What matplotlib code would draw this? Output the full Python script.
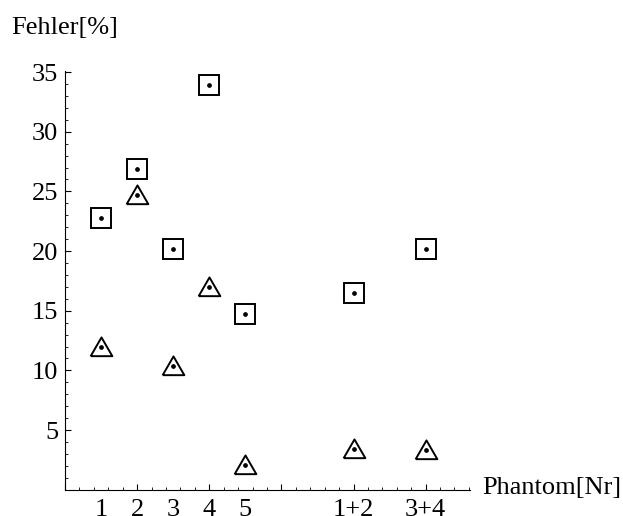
import numpy as np
import matplotlib
matplotlib.use("Agg")
import matplotlib.pyplot as plt
from matplotlib.ticker import MultipleLocator, NullFormatter

plt.rcParams['font.family'] = ['Liberation Serif', 'DejaVu Serif']

# phantom positions on the x axis and their labels
phantom_x = [1, 2, 3, 4, 5, 8, 10]
phantom_labels = ["1", "2", "3", "4", "5", "1+2", "3+4"]

# errors in percent
err_square = [22.75, 26.9, 20.2, 33.9, 14.7, 16.5, 20.15]
err_triangle = [12.0, 24.7, 10.4, 17.0, 2.1, 3.4, 3.35]

fs = 19

fig = plt.figure(figsize=(6.23, 5.16), dpi=100)
ax = fig.add_axes([65 / 623, 26.3 / 516, 405 / 623, 418.8 / 516])

# triangle marker a bit flatter than the default one
tri = [(-1.0, -0.8), (1.0, -0.8), (0.0, 0.93), (-1.0, -0.8)]

ax.plot(phantom_x, err_square, linestyle="none", marker="s", markersize=14.2,
        markerfacecolor="white", markeredgecolor="black", markeredgewidth=1.4,
        zorder=3)
ax.plot(phantom_x, err_triangle, linestyle="none", marker=tri, markersize=15.6,
        markerfacecolor="white", markeredgecolor="black", markeredgewidth=1.4,
        zorder=3)
# small dot in the middle of each marker
ax.plot(phantom_x, err_square, linestyle="none", marker="o", markersize=2.4,
        color="black", zorder=4)
ax.plot(phantom_x, err_triangle, linestyle="none", marker="o", markersize=2.4,
        color="black", zorder=4)

ax.set_xlim(0, 11.23)
ax.set_ylim(0, 35.1)

for s in ["top", "right"]:
    ax.spines[s].set_visible(False)
for s in ["left", "bottom"]:
    ax.spines[s].set_linewidth(0.8)

# y axis: labelled every 5, minor every 1
ax.set_yticks([5, 10, 15, 20, 25, 30, 35])
ax.yaxis.set_minor_locator(MultipleLocator(1))
ax.tick_params(axis="y", which="major", direction="in", length=4, width=0.8,
               labelsize=fs, pad=5)
ax.tick_params(axis="y", which="minor", direction="in", length=2, width=0.6)

# x axis marks: every 2 (longer) and every 0.4, no labels
ax.xaxis.set_major_locator(MultipleLocator(2))
ax.xaxis.set_minor_locator(MultipleLocator(0.4))
ax.xaxis.set_major_formatter(NullFormatter())
ax.xaxis.set_minor_formatter(NullFormatter())
ax.tick_params(axis="x", which="major", direction="in", length=4, width=0.8)
ax.tick_params(axis="x", which="minor", direction="in", length=2, width=0.6)

# labels at the phantoms, without marks
sec = ax.secondary_xaxis("bottom")
sec.set_xticks(phantom_x)
sec.set_xticklabels(phantom_labels)
sec.tick_params(length=0, labelsize=fs, pad=6.5)
sec.spines["bottom"].set_visible(False)

fig.text(11 / 623, 1 - 28 / 516, "Fehler[%]", fontsize=fs, ha="left", va="center")
fig.text(482 / 623, 1 - 488 / 516, "Phantom[Nr]", fontsize=fs, ha="left", va="center")

fig.savefig("out.png", dpi=100)
